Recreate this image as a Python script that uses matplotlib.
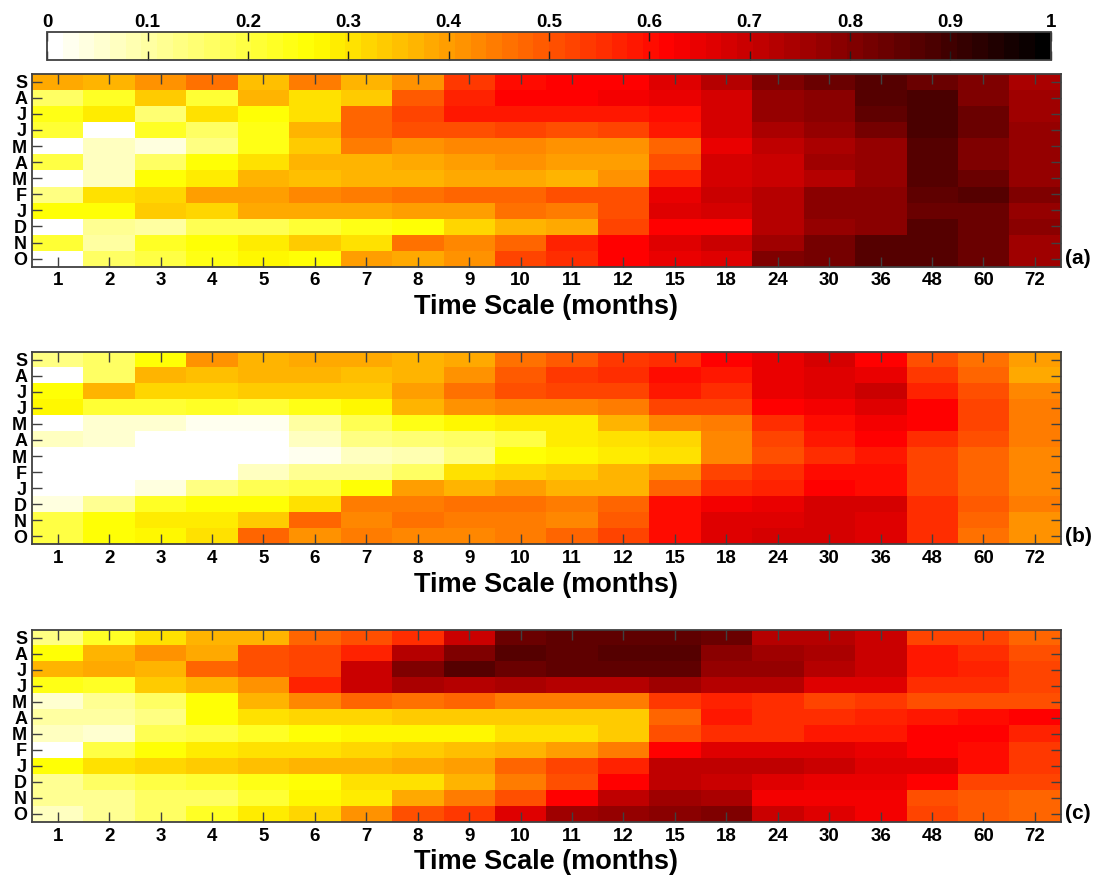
import numpy as np
import matplotlib
matplotlib.use("Agg")
import matplotlib.pyplot as plt
from matplotlib.colors import LinearSegmentedColormap

plt.rcParams['font.family'] = ['Liberation Sans', 'DejaVu Sans']
plt.rcParams['font.weight'] = 'bold'

months = ['S', 'A', 'J', 'J', 'M', 'A', 'M', 'F', 'J', 'D', 'N', 'O']
scales = ['1', '2', '3', '4', '5', '6', '7', '8', '9', '10', '11', '12',
          '15', '18', '24', '30', '36', '48', '60', '72']
cbar_ticks = [0, 0.1, 0.2, 0.3, 0.4, 0.5, 0.6, 0.7, 0.8, 0.9, 1]
cbar_labels = ['0', '0.1', '0.2', '0.3', '0.4', '0.5', '0.6', '0.7', '0.8', '0.9', '1']

panel_a = [
    [.39, .36, .41, .46, .35, .44, .37, .41, .54, .60, .61, .62, .66, .73, .81, .83, .86, .84, .80, .74],
    [.17, .22, .33, .21, .36, .30, .34, .49, .57, .62, .61, .64, .65, .68, .77, .79, .87, .88, .80, .75],
    [.24, .29, .15, .30, .25, .30, .47, .52, .58, .58, .58, .58, .60, .68, .77, .79, .85, .88, .83, .75],
    [.21, .00, .22, .16, .24, .36, .47, .51, .51, .52, .50, .53, .59, .68, .74, .78, .82, .89, .84, .77],
    [.00, .07, .04, .13, .24, .33, .44, .42, .43, .43, .41, .41, .47, .65, .71, .74, .77, .87, .81, .77],
    [.20, .07, .17, .26, .31, .37, .37, .39, .40, .41, .40, .40, .50, .68, .70, .75, .77, .87, .81, .77],
    [.00, .07, .25, .29, .36, .35, .36, .37, .38, .39, .36, .42, .57, .68, .70, .73, .77, .87, .84, .78],
    [.13, .30, .32, .40, .40, .43, .45, .46, .47, .47, .50, .50, .65, .70, .72, .79, .79, .85, .86, .80],
    [.25, .26, .33, .32, .38, .38, .39, .40, .40, .46, .45, .50, .66, .68, .72, .79, .79, .84, .83, .78],
    [.00, .12, .10, .18, .18, .21, .24, .25, .32, .36, .39, .53, .62, .62, .72, .78, .79, .86, .83, .79],
    [.21, .10, .23, .26, .29, .33, .30, .46, .43, .47, .57, .62, .66, .70, .75, .82, .86, .86, .83, .75],
    [.00, .16, .19, .24, .27, .25, .40, .38, .41, .52, .56, .62, .65, .66, .80, .82, .86, .86, .83, .75],
]
panel_b = [
    [.14, .17, .25, .41, .36, .38, .38, .37, .39, .46, .49, .54, .56, .61, .65, .68, .62, .51, .46, .40],
    [.00, .16, .36, .35, .36, .36, .35, .37, .42, .49, .54, .55, .60, .59, .65, .66, .65, .54, .47, .39],
    [.25, .37, .32, .32, .33, .33, .34, .40, .46, .50, .52, .53, .58, .55, .65, .67, .69, .57, .50, .43],
    [.28, .21, .21, .23, .21, .24, .27, .36, .41, .43, .43, .45, .52, .52, .61, .64, .67, .61, .52, .45],
    [.00, .06, .05, .03, .03, .10, .18, .24, .27, .29, .29, .37, .43, .45, .56, .60, .64, .61, .52, .45],
    [.07, .06, .00, .00, .00, .07, .13, .15, .17, .20, .29, .31, .32, .43, .53, .58, .62, .56, .50, .45],
    [.00, .00, .00, .00, .00, .03, .07, .08, .13, .25, .27, .29, .31, .43, .50, .55, .58, .53, .47, .43],
    [.00, .00, .00, .00, .07, .12, .12, .17, .30, .32, .34, .36, .42, .52, .55, .60, .60, .53, .47, .43],
    [.00, .00, .04, .13, .18, .19, .26, .40, .36, .40, .37, .37, .48, .55, .57, .61, .60, .53, .47, .43],
    [.04, .12, .22, .25, .25, .31, .45, .44, .46, .46, .44, .47, .60, .64, .65, .68, .68, .56, .49, .44],
    [.20, .26, .29, .29, .34, .48, .43, .46, .44, .45, .43, .49, .60, .66, .66, .68, .67, .55, .47, .42],
    [.19, .25, .27, .31, .47, .41, .44, .43, .43, .45, .47, .53, .60, .66, .68, .68, .66, .55, .46, .41],
]
panel_c = [
    [.13, .22, .31, .36, .37, .48, .50, .56, .70, .83, .85, .85, .85, .84, .73, .73, .70, .53, .52, .48],
    [.26, .36, .41, .39, .50, .52, .57, .73, .80, .87, .85, .87, .87, .79, .75, .74, .70, .58, .56, .51],
    [.36, .38, .36, .48, .50, .52, .70, .80, .86, .84, .85, .85, .85, .78, .78, .73, .70, .59, .57, .53],
    [.24, .22, .34, .37, .42, .57, .70, .74, .72, .74, .73, .73, .75, .72, .72, .67, .66, .56, .56, .52],
    [.05, .12, .17, .26, .36, .43, .47, .46, .47, .45, .44, .44, .54, .57, .56, .52, .54, .51, .51, .51],
    [.10, .10, .13, .26, .30, .32, .32, .33, .33, .34, .34, .34, .47, .58, .56, .55, .57, .59, .60, .62],
    [.07, .06, .18, .20, .23, .25, .27, .27, .28, .30, .30, .34, .51, .56, .56, .59, .59, .62, .61, .57],
    [.00, .19, .25, .29, .30, .31, .32, .33, .35, .36, .40, .45, .62, .66, .66, .66, .65, .62, .60, .54],
    [.26, .30, .32, .34, .35, .36, .37, .39, .40, .47, .52, .57, .71, .71, .71, .70, .67, .66, .60, .54],
    [.12, .17, .19, .21, .24, .26, .30, .30, .37, .45, .50, .62, .71, .70, .67, .65, .65, .62, .53, .53],
    [.11, .12, .16, .17, .21, .27, .29, .38, .45, .50, .62, .71, .75, .74, .64, .64, .64, .51, .49, .47],
    [.07, .12, .17, .22, .29, .32, .41, .51, .54, .66, .76, .78, .79, .80, .69, .66, .64, .52, .49, .47],
]
panels = [panel_a, panel_b, panel_c]
panel_tags = ['(a)', '(b)', '(c)']

W, H = 1101, 877
cmap = LinearSegmentedColormap.from_list(
    'white_hot', [(0, (1, 1, 1)), (0.26, (1, 1, 0)), (0.62, (1, 0, 0)), (1, (0, 0, 0))], N=64)
frame = '#404040'

fig = plt.figure(figsize=(W / 100, H / 100), dpi=100)


def box(x0, y0, x1, y1):
    return [x0 / W, 1 - y1 / H, (x1 - x0) / W, (y1 - y0) / H]


tops = [(73.7, 266.7), (351.7, 544.3), (629.7, 822)]
im = None
for vals, tag, (t, b) in zip(panels, panel_tags, tops):
    ax = fig.add_axes(box(32, t, 1060.5, b))
    im = ax.imshow(np.array(vals), cmap=cmap, vmin=0, vmax=1, aspect='auto', interpolation='nearest')
    ax.set_xticks(range(len(scales)), scales)
    ax.set_yticks(range(len(months)), months)
    ax.tick_params(axis='both', direction='in', length=7, width=1, color=frame,
                   top=True, bottom=True, left=True, right=True)
    ax.tick_params(axis='x', labelsize=13.5, pad=4)
    ax.tick_params(axis='y', labelsize=13, pad=3.5)
    for s in ax.spines.values():
        s.set_color(frame)
        s.set_linewidth(1.3)
    ax.set_xlabel('Time Scale (months)', fontsize=19.5, fontweight='bold', labelpad=3.5)
    ax.annotate(tag, xy=(1, 1 / 24), xycoords='axes fraction', xytext=(3, 0),
                textcoords='offset points', fontsize=15, fontweight='bold', va='center', ha='left')

cax = fig.add_axes(box(47.4, 32.3, 1050.7, 60.3))
cb = fig.colorbar(im, cax=cax, orientation='horizontal')
cb.set_ticks(cbar_ticks, labels=cbar_labels)
cax.tick_params(direction='in', length=6.5, width=1, color='#202020', top=True, bottom=True,
                labeltop=True, labelbottom=False, labelsize=13.5, pad=1)
cb.outline.set_edgecolor(frame)
cb.outline.set_linewidth(1.3)

fig.savefig('out.png', dpi=100)
